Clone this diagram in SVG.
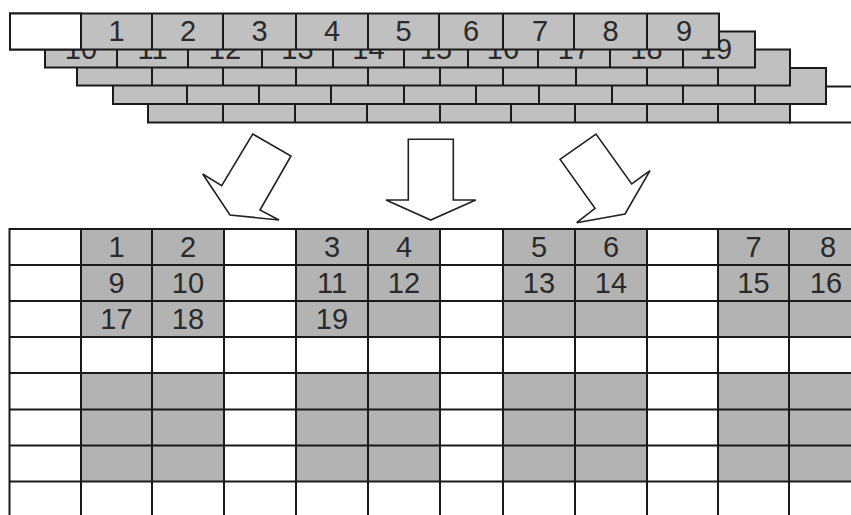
<svg xmlns="http://www.w3.org/2000/svg" width="851" height="515" viewBox="0 0 851 515">
<style>
.gr{fill:#c0c0c0;stroke:#1a1a1a;stroke-width:2}
.wh{fill:#ffffff;stroke:#1a1a1a;stroke-width:2}
.ln{stroke:#1a1a1a;stroke-width:2;fill:none}
.gc{fill:#b3b3b3}
.t{font-family:"Liberation Sans",Arial,sans-serif;font-size:29px;text-anchor:middle;fill:#2a2a2a}
.ar{fill:#ffffff;stroke:#222222;stroke-width:1.6;stroke-linejoin:miter}
</style>
<rect width="851" height="515" fill="#ffffff"/>
<g id="stacked-rows">
  <g id="row5">
    <rect class="wh" x="790" y="86.5" width="80" height="36"/>
    <rect class="gr" x="148" y="86.5" width="642" height="36"/>
    <path class="ln" d="M223 86.5V122.5M295 86.5V122.5M367 86.5V122.5M440 86.5V122.5M511 86.5V122.5M575 86.5V122.5M647 86.5V122.5M718 86.5V122.5"/>
  </g>
  <g id="row4">
    <rect class="gr" x="113" y="68" width="713" height="36"/>
    <path class="ln" d="M187 68V104M259 68V104M331 68V104M404 68V104M476 68V104M539 68V104M612 68V104M683 68V104M755 68V104"/>
  </g>
  <g id="row3">
    <rect class="gr" x="77" y="49.5" width="713" height="36"/>
    <path class="ln" d="M152 49.5V85.5M223 49.5V85.5M296 49.5V85.5M368 49.5V85.5M440 49.5V85.5M503 49.5V85.5M576 49.5V85.5M647 49.5V85.5M718 49.5V85.5"/>
  </g>
  <g id="row2">
    <rect class="gr" x="45" y="31.5" width="710" height="36"/>
    <path class="ln" d="M117 31.5V67.5M188 31.5V67.5M262 31.5V67.5M333 31.5V67.5M404 31.5V67.5M468 31.5V67.5M538 31.5V67.5M610 31.5V67.5M683 31.5V67.5"/>
    <text class="t" x="81" y="59">10</text>
    <text class="t" x="152.5" y="59">11</text>
    <text class="t" x="225" y="59">12</text>
    <text class="t" x="297.5" y="59">13</text>
    <text class="t" x="368.5" y="59">14</text>
    <text class="t" x="436" y="59">15</text>
    <text class="t" x="503" y="59">16</text>
    <text class="t" x="574" y="59">17</text>
    <text class="t" x="646.5" y="59">18</text>
    <text class="t" x="716" y="59">19</text>
  </g>
  <g id="row1">
    <rect class="gr" x="10" y="13.5" width="709" height="36"/>
    <rect class="wh" x="10" y="13.5" width="71" height="36"/>
    <path class="ln" d="M152 13.5V49.5M223 13.5V49.5M296 13.5V49.5M368 13.5V49.5M439 13.5V49.5M503 13.5V49.5M574 13.5V49.5M647 13.5V49.5"/>
    <text class="t" x="116.5" y="41">1</text>
    <text class="t" x="188" y="41">2</text>
    <text class="t" x="259.5" y="41">3</text>
    <text class="t" x="332" y="41">4</text>
    <text class="t" x="403.5" y="41">5</text>
    <text class="t" x="471" y="41">6</text>
    <text class="t" x="540" y="41">7</text>
    <text class="t" x="610.5" y="41">8</text>
    <text class="t" x="684" y="41">9</text>
  </g>
</g>
<g id="arrows">
  <polygon id="arrow-left" class="ar" points="252.7,134 291,156 260,210 279,220 230,215 202.7,174 221.7,185.7"/>
  <polygon id="arrow-middle" class="ar" points="408.3,139.3 453.3,139.3 453.3,200 475.7,200 430.7,220 386,200 408.3,200"/>
  <polygon id="arrow-right" class="ar" points="560,159.3 596,134 631.7,184 650,170.7 625,214 576.7,222.7 595,208.3"/>
</g>
<g id="grid">
  <g id="gray-cells">
    <rect class="gc" x="81" y="229" width="143" height="108"/>
    <rect class="gc" x="296" y="229" width="144" height="108"/>
    <rect class="gc" x="503" y="229" width="144" height="108"/>
    <rect class="gc" x="718" y="229" width="140" height="108"/>
    <rect class="gc" x="81" y="373" width="143" height="108.5"/>
    <rect class="gc" x="296" y="373" width="144" height="108.5"/>
    <rect class="gc" x="503" y="373" width="144" height="108.5"/>
    <rect class="gc" x="718" y="373" width="140" height="108.5"/>
  </g>
  <path class="ln" d="M9.5 229H851M9.5 265H851M9.5 301H851M9.5 337H851M9.5 373H851M9.5 409.5H851M9.5 445.5H851M9.5 481.5H851"/>
  <path class="ln" d="M9.5 228V515M81 228V515M152 228V515M224 228V515M296 228V515M368 228V515M440 228V515M503 228V515M575 228V515M647 228V515M718 228V515M789 228V515"/>
  <g id="grid-labels">
    <text class="t" x="116.5" y="257">1</text>
    <text class="t" x="188" y="257">2</text>
    <text class="t" x="332" y="257">3</text>
    <text class="t" x="404" y="257">4</text>
    <text class="t" x="539" y="257">5</text>
    <text class="t" x="611" y="257">6</text>
    <text class="t" x="753.5" y="257">7</text>
    <text class="t" x="828" y="257">8</text>
    <text class="t" x="116.5" y="293">9</text>
    <text class="t" x="188" y="293">10</text>
    <text class="t" x="332" y="293">11</text>
    <text class="t" x="404" y="293">12</text>
    <text class="t" x="539" y="293">13</text>
    <text class="t" x="611" y="293">14</text>
    <text class="t" x="753.5" y="293">15</text>
    <text class="t" x="826" y="293">16</text>
    <text class="t" x="116.5" y="329">17</text>
    <text class="t" x="188" y="329">18</text>
    <text class="t" x="332" y="329">19</text>
  </g>
</g>
</svg>
